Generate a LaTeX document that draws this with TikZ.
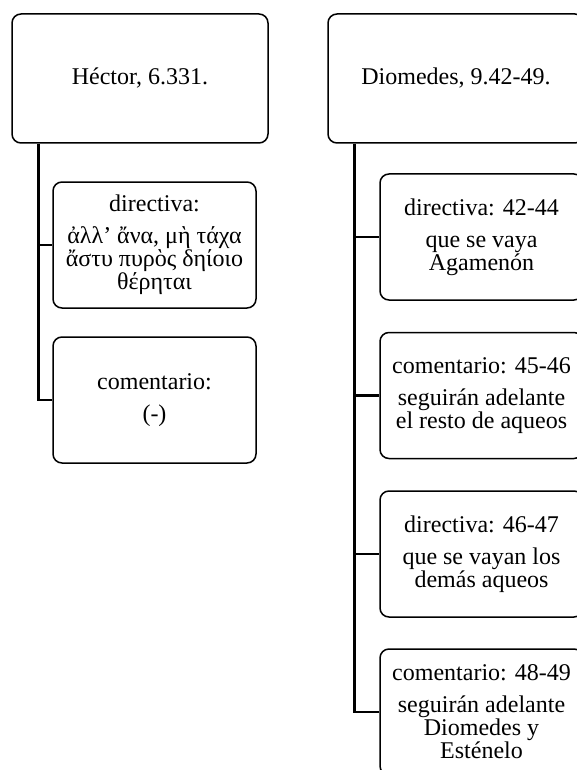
\documentclass[tikz,border=0pt]{standalone}
\usepackage{fontspec}
\setmainfont{Liberation Serif}
\begin{document}
\begin{tikzpicture}[x=1pt,y=-1pt,
  box/.style={draw=black, line width=1.5pt, rounded corners=9pt, fill=white,
    align=center, inner sep=0pt,
    font=\fontsize{24}{23}\selectfont},
  topbox/.style={box, minimum width=256pt, minimum height=129pt},
  subbox/.style={box, minimum width=203pt, minimum height=126pt},
  tree/.style={draw=black, line width=2.5pt}]
\useasboundingbox (0,0) rectangle (577,770);
\clip (0,0) rectangle (577,770);

% left column
\node[topbox] (hector) at (140,78.5) {Héctor, 6.331.};
\node[subbox] (l1) at (154.5,245) {directiva:\\[9pt]ἀλλ’ ἄνα, μὴ τάχα\\ἄστυ πυρὸς δηίοιο\\θέρηται};
\node[subbox] (l2) at (154.5,400) {comentario:\\[9pt](-)};

% right column
\node[topbox] (diomedes) at (456,78.5) {Diomedes, 9.42-49.};
\node[subbox] (r1) at (481.5,237) {directiva: 42-44\\[9pt]que se vaya\\Agamenón};
\node[subbox] (r2) at (481.5,395.5) {comentario: 45-46\\[9pt]seguirán adelante\\el resto de aqueos};
\node[subbox] (r3) at (481.5,554) {directiva: 46-47\\[9pt]que se vayan los\\demás aqueos};
\node[subbox] (r4) at (481.5,712) {comentario: 48-49\\[9pt]seguirán adelante\\Diomedes y\\Esténelo};

% connectors
\coordinate (ls) at ([xshift=27pt]hector.south west);
\draw[tree] (ls) |- (l2.west);
\draw[tree] (ls |- l1.west) -- (l1.west);

\coordinate (rs) at ([xshift=27pt]diomedes.south west);
\draw[tree] (rs) |- (r4.west);
\draw[tree] (rs |- r1.west) -- (r1.west);
\draw[tree] (rs |- r2.west) -- (r2.west);
\draw[tree] (rs |- r3.west) -- (r3.west);
\end{tikzpicture}
\end{document}
